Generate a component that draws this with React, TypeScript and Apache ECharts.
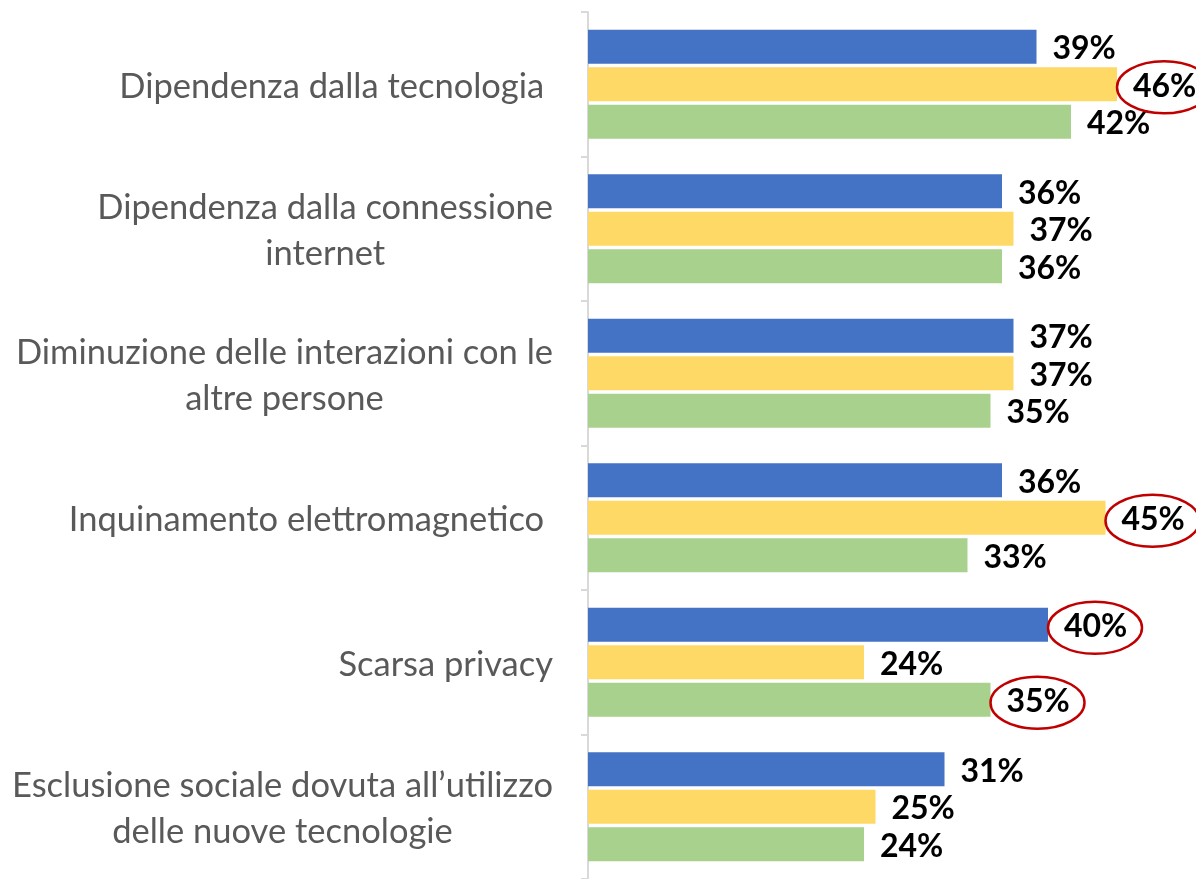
import React, { useEffect, useRef } from "react";
import * as echarts from "echarts";

const categories = [
  "Dipendenza dalla tecnologia\u00a0",
  "Dipendenza dalla connessione\ninternet",
  "Diminuzione delle interazioni con le\naltre persone",
  "Inquinamento elettromagnetico\u00a0",
  "Scarsa privacy",
  "Esclusione sociale dovuta all\u2019utilizzo\ndelle nuove tecnologie",
];
const seriesBlue = [39, 36, 37, 36, 40, 31];
const seriesYellow = [46, 37, 37, 45, 24, 25];
const seriesGreen = [42, 36, 35, 33, 35, 24];
const seriesColors = ["#4472C4", "#FFD966", "#A9D18E"];
// [category index, series index] of circled labels
const circled: [number, number][] = [
  [0, 1],
  [3, 1],
  [4, 0],
  [4, 2],
];

const BAR_W = 34;
const BAR_GAP = 0.1;
const LABEL_DIST = 16;

export default function App() {
  const ref = useRef<HTMLDivElement>(null);
  useEffect(() => {
    document.body.style.margin = "0";
    const chart = echarts.init(ref.current!, null, { renderer: "svg" });
    const all = [seriesBlue, seriesYellow, seriesGreen];
    const barSeries = all.map((vals, i) => ({
      type: "bar",
      data: vals,
      barWidth: BAR_W,
      barGap: BAR_GAP * 100 + "%",
      itemStyle: { color: seriesColors[i] },
      label: {
        show: true,
        position: "right",
        distance: LABEL_DIST,
        formatter: (p: any) => p.value + "%",
        color: "#000",
        fontFamily: "Lato",
        fontWeight: "bold",
        fontSize: 32,
      },
    }));
    const circleData = circled.map(([c, s]) => [all[s][c], c, s]);
    chart.setOption({
      animation: false,
      grid: { left: 588, top: 12, width: 575, height: 873 },
      xAxis: { type: "value", min: 0, max: 50, show: false },
      yAxis: {
        type: "category",
        inverse: true,
        data: categories,
        axisLine: { lineStyle: { color: "#D9D9D9", width: 2 } },
        axisTick: { show: true, length: 7, lineStyle: { color: "#D9D9D9", width: 2 } },
        axisLabel: {
          margin: 35,
          align: "right",
          formatter: (v: string) =>
            v
              .split("\n")
              .map((l) => "{c|" + l + "}")
              .join("\n"),
          rich: {
            c: {
              align: "center",
              fontFamily: "Lato",
              fontSize: 34.5,
              lineHeight: 46,
              color: "#595959",
            },
          },
        },
      },
      series: [
        ...barSeries,
        {
          type: "custom",
          data: circleData,
          encode: { x: 0, y: 1 },
          z: 10,
          clip: false,
          renderItem: (params: any, api: any) => {
            const v = api.value(0);
            const c = api.value(1);
            const s = api.value(2);
            const pt = api.coord([v, c]);
            const step = BAR_W * (1 + BAR_GAP);
            const cy = pt[1] + (s - 1) * step + 3;
            const cx = pt[0] + LABEL_DIST + 31;
            return {
              type: "ellipse",
              shape: { cx, cy, rx: 47, ry: 26 },
              style: { fill: "none", stroke: "#C00000", lineWidth: 2.5 },
            };
          },
        },
      ],
    });
    return () => chart.dispose();
  }, []);
  return (
    <div
      ref={ref}
      style={{ position: "fixed", left: 0, top: 0, width: 1196, height: 879 }}
    />
  );
}
